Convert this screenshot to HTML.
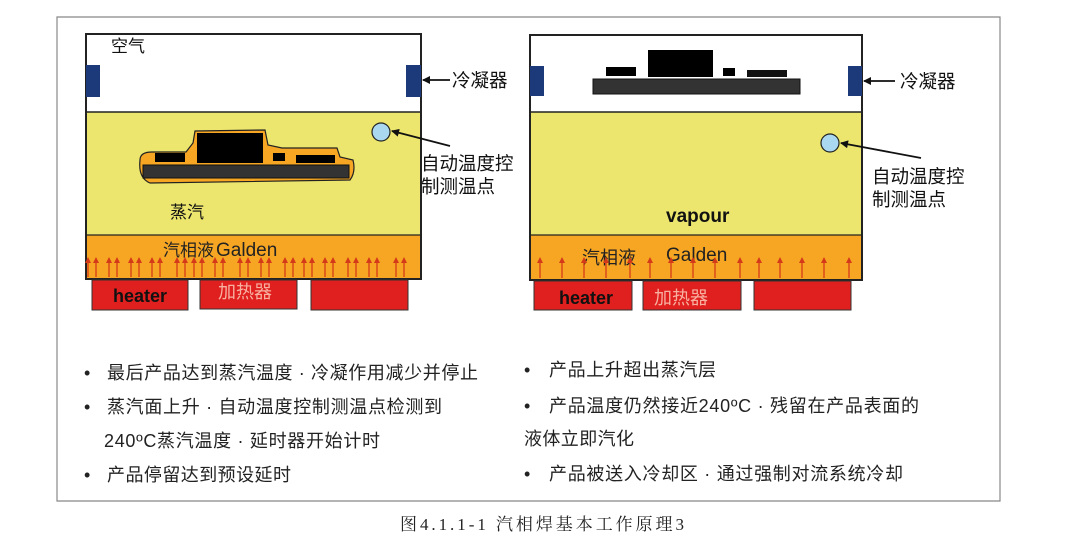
<!DOCTYPE html>
<html><head><meta charset="utf-8"><style>
body{margin:0;background:#fff;width:1087px;height:554px;overflow:hidden}
svg text{font-family:"Liberation Sans","Noto Sans CJK SC",sans-serif}
</style></head><body>
<svg width="1087" height="554" viewBox="0 0 1087 554" xmlns="http://www.w3.org/2000/svg">
<defs>
<marker id="ah" markerWidth="8" markerHeight="8" refX="7" refY="4" orient="auto" markerUnits="userSpaceOnUse"><path d="M0,0 L8,4 L0,8 z" fill="#111"/></marker>
<marker id="ra" markerWidth="6" markerHeight="6" refX="3" refY="3" orient="auto" markerUnits="userSpaceOnUse"><path d="M0,0 L6,3 L0,6 z" fill="#d43a1a"/></marker>
</defs>
<path d="M57,17 L1000,17 L1000,501 L57,501 Z" fill="none" stroke="#888" stroke-width="1.2"/>

<!-- LEFT -->
<rect x="86" y="34" width="335" height="78" fill="#fff"/>
<rect x="86" y="112" width="335" height="123" fill="#ece66e"/>
<rect x="86" y="235" width="335" height="44" fill="#f6a623"/>
<rect x="86" y="34" width="335" height="245" fill="none" stroke="#222" stroke-width="2"/>
<line x1="86" y1="112" x2="421" y2="112" stroke="#222" stroke-width="1.5"/>
<line x1="86" y1="235" x2="421" y2="235" stroke="#222" stroke-width="1.2"/>
<rect x="86" y="65" width="14" height="32" fill="#1c3a7a"/>
<rect x="406" y="65" width="15" height="32" fill="#1c3a7a"/>
<text x="111" y="52" font-size="17" fill="#111">空气</text>
<path d="M140,160 Q140,152 152,152 L186,152 L193,143 L195,131 L265,130 L268,145 L282,148 L337,148 L340,157 L353,160 Q356,172 350,180 L150,183 Q138,178 140,160 Z" fill="#f6a623" stroke="#222" stroke-width="1.2"/>
<rect x="155" y="153" width="30" height="9" fill="#000"/>
<rect x="197" y="133" width="66" height="30" fill="#000"/>
<rect x="273" y="153" width="12" height="8" fill="#000"/>
<rect x="296" y="155" width="39" height="8" fill="#000"/>
<rect x="143" y="165" width="206" height="13" fill="#333" stroke="#111"/>
<text x="170" y="218" font-size="17" fill="#111">蒸汽</text>
<text x="163" y="256" font-size="17" fill="#222">汽相液</text><text x="216" y="256" font-size="19" fill="#222">Galden</text>
<g stroke="#d43a1a" stroke-width="1.3" marker-end="url(#ra)">
<line x1="88" y1="277" x2="88" y2="260"/><line x1="96" y1="277" x2="96" y2="260"/>
<line x1="109" y1="277" x2="109" y2="260"/><line x1="117" y1="277" x2="117" y2="260"/>
<line x1="131" y1="277" x2="131" y2="260"/><line x1="139" y1="277" x2="139" y2="260"/>
<line x1="152" y1="277" x2="152" y2="260"/><line x1="160" y1="277" x2="160" y2="260"/>
<line x1="177" y1="277" x2="177" y2="260"/><line x1="185" y1="277" x2="185" y2="260"/>
<line x1="194" y1="277" x2="194" y2="260"/><line x1="202" y1="277" x2="202" y2="260"/>
<line x1="215" y1="277" x2="215" y2="260"/><line x1="223" y1="277" x2="223" y2="260"/>
<line x1="240" y1="277" x2="240" y2="260"/><line x1="248" y1="277" x2="248" y2="260"/>
<line x1="261" y1="277" x2="261" y2="260"/><line x1="269" y1="277" x2="269" y2="260"/>
<line x1="285" y1="277" x2="285" y2="260"/><line x1="293" y1="277" x2="293" y2="260"/>
<line x1="304" y1="277" x2="304" y2="260"/><line x1="312" y1="277" x2="312" y2="260"/>
<line x1="325" y1="277" x2="325" y2="260"/><line x1="333" y1="277" x2="333" y2="260"/>
<line x1="348" y1="277" x2="348" y2="260"/><line x1="356" y1="277" x2="356" y2="260"/>
<line x1="369" y1="277" x2="369" y2="260"/><line x1="377" y1="277" x2="377" y2="260"/>
<line x1="396" y1="277" x2="396" y2="260"/><line x1="404" y1="277" x2="404" y2="260"/>
</g>
<rect x="92" y="280" width="96" height="30" fill="#e0201e" stroke="#333"/>
<rect x="200" y="280" width="97" height="29" fill="#e0201e" stroke="#333"/>
<rect x="311" y="280" width="97" height="30" fill="#e0201e" stroke="#333"/>
<text x="113" y="302" font-size="18" font-weight="bold" fill="#111">heater</text>
<text x="218" y="298" font-size="18" fill="#f7b0a0">加热器</text>
<circle cx="381" cy="132" r="9" fill="#a9d8f0" stroke="#222" stroke-width="1.2"/>
<line x1="450" y1="146" x2="392" y2="131" stroke="#111" stroke-width="1.8" marker-end="url(#ah)"/>
<line x1="450" y1="80" x2="423" y2="80" stroke="#111" stroke-width="1.8" marker-end="url(#ah)"/>
<text x="452" y="87" font-size="18.5" fill="#111">冷凝器</text>
<text x="421" y="170" font-size="18.5" fill="#111">自动温度控</text>
<text x="421" y="193" font-size="18.5" fill="#111">制测温点</text>

<!-- RIGHT -->
<rect x="530" y="35" width="332" height="77" fill="#fff"/>
<rect x="530" y="112" width="332" height="123" fill="#ece66e"/>
<rect x="530" y="235" width="332" height="45" fill="#f6a623"/>
<rect x="530" y="35" width="332" height="245" fill="none" stroke="#222" stroke-width="2"/>
<line x1="530" y1="112" x2="862" y2="112" stroke="#222" stroke-width="1.5"/>
<line x1="530" y1="235" x2="862" y2="235" stroke="#222" stroke-width="1.2"/>
<rect x="530" y="66" width="14" height="30" fill="#1c3a7a"/>
<rect x="848" y="66" width="14" height="30" fill="#1c3a7a"/>
<rect x="606" y="67" width="30" height="9" fill="#000"/>
<rect x="648" y="50" width="65" height="27" fill="#000"/>
<rect x="723" y="68" width="12" height="8" fill="#000"/>
<rect x="747" y="70" width="40" height="7" fill="#111"/>
<rect x="593" y="79" width="207" height="15" fill="#333" stroke="#111"/>
<text x="666" y="222" font-size="19" font-weight="bold" fill="#111">vapour</text>
<text x="582" y="264" font-size="18" fill="#222">汽相液</text><text x="666" y="261" font-size="19" fill="#222">Galden</text>
<g stroke="#d43a1a" stroke-width="1.3" marker-end="url(#ra)">
<line x1="540" y1="278" x2="540" y2="260"/><line x1="562" y1="278" x2="562" y2="260"/>
<line x1="584" y1="278" x2="584" y2="260"/><line x1="606" y1="278" x2="606" y2="260"/>
<line x1="630" y1="278" x2="630" y2="260"/><line x1="650" y1="278" x2="650" y2="260"/>
<line x1="671" y1="278" x2="671" y2="260"/><line x1="693" y1="278" x2="693" y2="260"/>
<line x1="715" y1="278" x2="715" y2="260"/><line x1="740" y1="278" x2="740" y2="260"/>
<line x1="759" y1="278" x2="759" y2="260"/><line x1="780" y1="278" x2="780" y2="260"/>
<line x1="802" y1="278" x2="802" y2="260"/><line x1="824" y1="278" x2="824" y2="260"/>
<line x1="849" y1="278" x2="849" y2="260"/>
</g>
<rect x="534" y="281" width="98" height="29" fill="#e0201e" stroke="#333"/>
<rect x="643" y="281" width="98" height="29" fill="#e0201e" stroke="#333"/>
<rect x="754" y="281" width="97" height="29" fill="#e0201e" stroke="#333"/>
<text x="559" y="304" font-size="18" font-weight="bold" fill="#111">heater</text>
<text x="654" y="304" font-size="18" fill="#f7b0a0">加热器</text>
<circle cx="830" cy="143" r="9" fill="#a9d8f0" stroke="#222" stroke-width="1.2"/>
<line x1="921" y1="158" x2="841" y2="143" stroke="#111" stroke-width="1.8" marker-end="url(#ah)"/>
<line x1="895" y1="81" x2="864" y2="81" stroke="#111" stroke-width="1.8" marker-end="url(#ah)"/>
<text x="900" y="88" font-size="18.5" fill="#111">冷凝器</text>
<text x="872" y="183" font-size="18.5" fill="#111">自动温度控</text>
<text x="872" y="206" font-size="18.5" fill="#111">制测温点</text>

<!-- bullets -->
<g font-size="18" fill="#222">
<text x="84" y="379">•</text><text x="107" y="379" textLength="371" lengthAdjust="spacing">最后产品达到蒸汽温度 · 冷凝作用减少并停止</text>
<text x="84" y="413">•</text><text x="107" y="413" textLength="335" lengthAdjust="spacing">蒸汽面上升 · 自动温度控制测温点检测到</text>
<text x="104" y="447" textLength="276" lengthAdjust="spacing">240ºC蒸汽温度 · 延时器开始计时</text>
<text x="84" y="481">•</text><text x="107" y="481" textLength="184" lengthAdjust="spacing">产品停留达到预设延时</text>
<text x="524" y="376">•</text><text x="549" y="376" textLength="167" lengthAdjust="spacing">产品上升超出蒸汽层</text>
<text x="524" y="412">•</text><text x="549" y="412" textLength="370" lengthAdjust="spacing">产品温度仍然接近240ºC · 残留在产品表面的</text>
<text x="524" y="445" textLength="110" lengthAdjust="spacing">液体立即汽化</text>
<text x="524" y="480">•</text><text x="549" y="480" textLength="354" lengthAdjust="spacing">产品被送入冷却区 · 通过强制对流系统冷却</text>
</g>
<text x="400" y="530" font-size="17" fill="#222" textLength="284" lengthAdjust="spacing" style="font-family:'Liberation Serif','Noto Serif CJK SC',serif">图4.1.1-1 汽相焊基本工作原理3</text>
</svg>
</body></html>
